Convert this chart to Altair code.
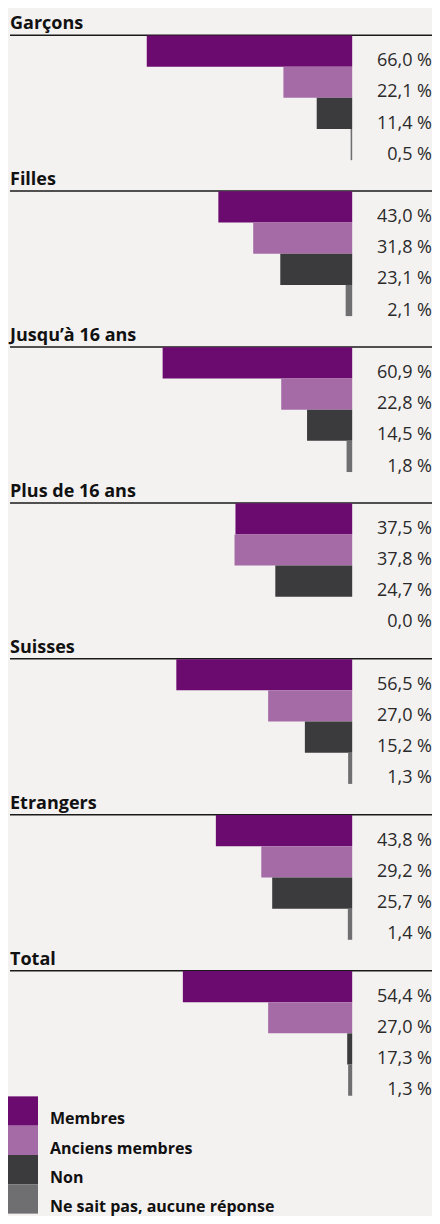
import altair as alt
import pandas as pd

groups = ["Garçons", "Filles", "Jusqu’à 16 ans", "Plus de 16 ans",
          "Suisses", "Etrangers", "Total"]
categories = ["Membres", "Anciens membres", "Non", "Ne sait pas, aucune réponse"]
membres = [66.0, 43.0, 60.9, 37.5, 56.5, 43.8, 54.4]
anciens = [22.1, 31.8, 22.8, 37.8, 27.0, 29.2, 27.0]
non = [11.4, 23.1, 14.5, 24.7, 15.2, 25.7, 17.3]
nsp = [0.5, 2.1, 1.8, 0.0, 1.3, 1.4, 1.3]
# bar lengths as printed in the original (the Total "Non" bar is printed as a thin sliver)
non_drawn = [11.4, 23.1, 14.5, 24.7, 15.2, 25.7, 1.6]
colors = ["#6c0b6f", "#a56ba7", "#3b3a3c", "#6f6e70"]

W, H = 424, 1208
FONT = "Open Sans"

series = [membres, anciens, non, nsp]
series_drawn = [membres, anciens, non_drawn, nsp]

bar_rows = []
for i, g in enumerate(groups):
    for j, cat in enumerate(categories):
        v = series[j][i]
        r0 = i * 5 + 1 + j
        bar_rows.append({
            "group": g, "category": cat, "value": v,
            "drawn": series_drawn[j][i],
            "label": f"{v:.1f}".replace(".", ",") + " %",
            "r0": r0, "r1": r0 + 1, "rl": r0 + 0.985,
        })
bar_df = pd.DataFrame(bar_rows)

title_df = pd.DataFrame({
    "group": groups,
    "line": [i * 5 + 0.99 for i in range(len(groups))],
    "tb": [i * 5 + 0.80 for i in range(len(groups))],
})

leg_h = 0.94
legend_df = pd.DataFrame({
    "category": categories,
    "r0": [35.02 + leg_h * j for j in range(4)],
    "r1": [35.02 + leg_h * (j + 1) for j in range(4)],
    "rt": [35.02 + leg_h * (j + 1) - 0.04 for j in range(4)],
})

yscale = alt.Scale(domain=[0.12, 38.76], reverse=True, nice=False, zero=False)
xscale = alt.Scale(domain=[-110.58, 25.32], nice=False, zero=False)
cscale = alt.Scale(domain=categories, range=colors)

bars = alt.Chart(bar_df).transform_calculate(
    neg="-datum.drawn", zero="0"
).mark_rect().encode(
    x=alt.X("neg:Q", scale=xscale, axis=None),
    x2="zero:Q",
    y=alt.Y("r0:Q", scale=yscale, axis=None),
    y2="r1:Q",
    color=alt.Color("category:N", scale=cscale, legend=None),
)

labels = alt.Chart(bar_df).mark_text(
    align="right", baseline="alphabetic", fontSize=18, font=FONT, color="#2a2a2a"
).encode(
    x=alt.value(W),
    y=alt.Y("rl:Q", scale=yscale, axis=None),
    text="label:N",
)

titles = alt.Chart(title_df).mark_text(
    align="left", baseline="alphabetic", fontSize=18, font=FONT,
    fontWeight="bold", color="#111111"
).encode(
    x=alt.value(2),
    y=alt.Y("tb:Q", scale=yscale, axis=None),
    text="group:N",
)

lines = alt.Chart(title_df).mark_rule(strokeWidth=1.5, color="#1a1a1a").encode(
    x=alt.value(2), x2=alt.value(W),
    y=alt.Y("line:Q", scale=yscale, axis=None),
)

leg_sq = alt.Chart(legend_df).mark_rect().encode(
    x=alt.value(0), x2=alt.value(30),
    y=alt.Y("r0:Q", scale=yscale, axis=None),
    y2="r1:Q",
    color=alt.Color("category:N", scale=cscale, legend=None),
)

leg_txt = alt.Chart(legend_df).mark_text(
    align="left", baseline="alphabetic", fontSize=16, font=FONT,
    fontWeight="bold", color="#111111"
).encode(
    x=alt.value(42),
    y=alt.Y("rt:Q", scale=yscale, axis=None),
    text="category:N",
)

chart = alt.layer(lines, bars, labels, titles, leg_sq, leg_txt).properties(
    width=W, height=H,
    autosize=alt.AutoSizeParams(type="fit", contains="padding"),
    padding=0,
    background="#f4f2f1",
).configure_view(stroke=None)

chart.save("out.html", embed_options={"renderer": "svg", "actions": False})
